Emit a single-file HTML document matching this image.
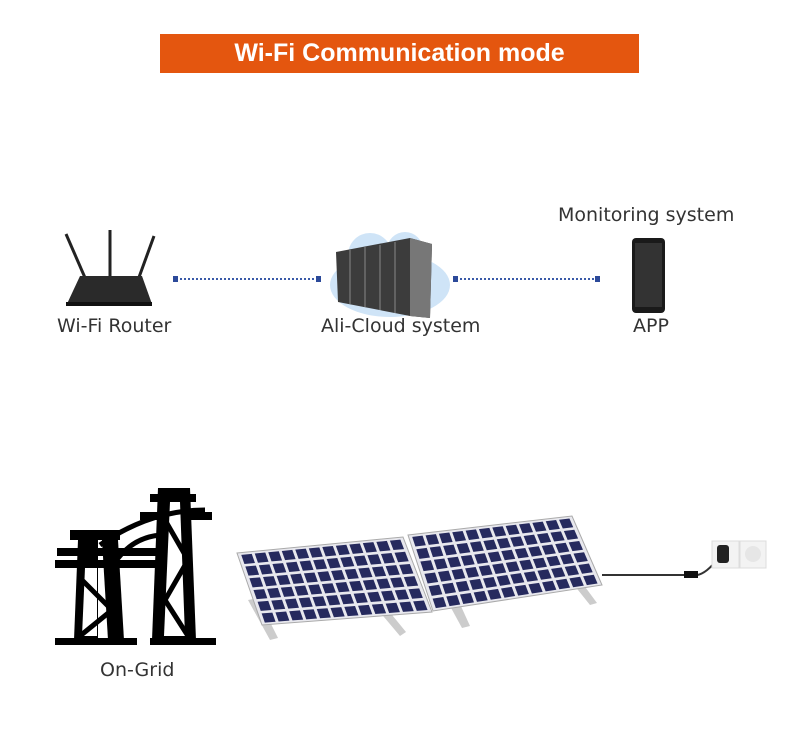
<!DOCTYPE html>
<html><head><meta charset="utf-8"><style>
body{margin:0;background:#fff;width:800px;height:729px;overflow:hidden;font-family:"DejaVu Sans","Liberation Sans",sans-serif}
.t{position:absolute;color:#333;font-size:19px}
</style></head><body>
<div style="position:absolute;left:160px;top:34px;width:479px;height:39px;background:#e4560f;color:#fff;font:bold 25px 'Liberation Sans',sans-serif;text-align:center;line-height:39px">Wi-Fi Communication mode</div>
<div class="t" style="left:558px;top:204px">Monitoring system</div>
<div class="t" style="left:57px;top:315px">Wi-Fi Router</div>
<div class="t" style="left:321px;top:315px">Ali-Cloud system</div>
<div class="t" style="left:633px;top:315px">APP</div>
<div class="t" style="left:100px;top:659px">On-Grid</div>
<svg id="s" width="800" height="729" style="position:absolute;left:0;top:0">
<g stroke="#222" stroke-width="3"><line x1="66" y1="234" x2="86" y2="280"/><line x1="110" y1="230" x2="110" y2="278"/><line x1="154" y1="236" x2="138" y2="280"/></g>
<polygon points="80,276 142,276 152,304 66,306" fill="#2a2a2a"/>
<rect x="66" y="302" width="86" height="4" fill="#111"/>
<g stroke="#3a5aa8" stroke-width="2" stroke-dasharray="2,2"><line x1="176" y1="279" x2="317" y2="279"/><line x1="456" y1="279" x2="597" y2="279"/></g>
<g fill="#2c4a9a"><rect x="173" y="276" width="5" height="6"/><rect x="316" y="276" width="5" height="6"/><rect x="453" y="276" width="5" height="6"/><rect x="595" y="276" width="5" height="6"/></g>
<g fill="#cfe4f7"><ellipse cx="390" cy="285" rx="60" ry="32"/><circle cx="370" cy="255" r="22"/><circle cx="405" cy="250" r="18"/></g>
<polygon points="336,252 410,238 432,244 430,318 410,316 338,302" fill="#3c3c3c"/>
<polygon points="410,238 432,244 430,318 410,316" fill="#777"/>
<g stroke="#888" stroke-width="1"><line x1="350" y1="250" x2="350" y2="304"/><line x1="365" y1="247" x2="365" y2="307"/><line x1="380" y1="245" x2="380" y2="310"/><line x1="395" y1="242" x2="395" y2="313"/></g>
<rect x="632" y="238" width="33" height="75" rx="4" fill="#1a1a1a"/>
<rect x="635" y="243" width="27" height="64" fill="#333"/>
<g fill="#000">
<rect x="55" y="638" width="82" height="7"/><rect x="150" y="638" width="66" height="7"/>
<polygon points="78,540 98,540 98,640 74,640"/><polygon points="102,540 118,540 124,640 108,640" />
<rect x="70" y="530" width="50" height="10"/><rect x="57" y="548" width="110" height="8"/><rect x="55" y="560" width="112" height="8"/>
<polygon points="158,488 190,488 196,640 152,640"/>
<rect x="150" y="494" width="46" height="8"/><rect x="140" y="512" width="72" height="8"/>
</g>
<g fill="#fff"><polygon points="85,568 97,568 97,636 82,636"/><polygon points="170,502 180,502 185,636 164,636"/></g>
<g stroke="#000" stroke-width="5" fill="none"><path d="M80,578 L112,610 L80,636"/><path d="M165,520 L188,560 L165,600 L188,636"/><path d="M100,545 Q150,510 205,510"/><path d="M110,570 Q130,535 165,535"/></g>
<g fill="#ccc"><polygon points="248,600 270,640 278,638 258,598"/><polygon points="378,610 400,636 406,632 388,610"/><polygon points="450,606 462,628 470,626 460,604"/><polygon points="570,580 590,605 597,603 580,580"/></g>
<path d="M602,575 L690,575 Q702,578 715,562" stroke="#333" stroke-width="2" fill="none"/>
<rect x="684" y="571" width="14" height="7" fill="#111"/>
<rect x="712" y="541" width="27" height="27" fill="#f3f3f3" stroke="#ddd"/><rect x="740" y="541" width="26" height="27" fill="#f3f3f3" stroke="#ddd"/>
<rect x="717" y="545" width="12" height="18" rx="3" fill="#222"/><circle cx="753" cy="554" r="8" fill="#e6e6e6"/>
<g id="p"></g>
</svg>
<script>
function panel(A,B,C,D,cols,rows){
 const g=document.getElementById('p'),ns='http://www.w3.org/2000/svg';
 const P=(u,v)=>{const tx=A[0]+(B[0]-A[0])*u,ty=A[1]+(B[1]-A[1])*u,bx=D[0]+(C[0]-D[0])*u,by=D[1]+(C[1]-D[1])*u;return[tx+(bx-tx)*v,ty+(by-ty)*v]};
 let pg=document.createElementNS(ns,'polygon');pg.setAttribute('points',[A,B,C,D].join(' '));pg.setAttribute('fill','#e8e8ee');pg.setAttribute('stroke','#aaa');g.appendChild(pg);
 const m=0.012;
 for(let i=0;i<cols;i++)for(let j=0;j<rows;j++){
  const u0=m+(1-2*m)*i/cols+0.009,u1=m+(1-2*m)*(i+1)/cols-0.009,v0=m+(1-2*m)*j/rows+0.018,v1=m+(1-2*m)*(j+1)/rows-0.018;
  let c=document.createElementNS(ns,'polygon');c.setAttribute('points',[P(u0,v0),P(u1,v0),P(u1,v1),P(u0,v1)].join(' '));c.setAttribute('fill','#262a5e');g.appendChild(c);}
}
panel([237,553],[403,537],[432,612],[262,625],12,6);
panel([408,535],[572,516],[602,585],[433,611],12,6);
</script>
</body></html>
